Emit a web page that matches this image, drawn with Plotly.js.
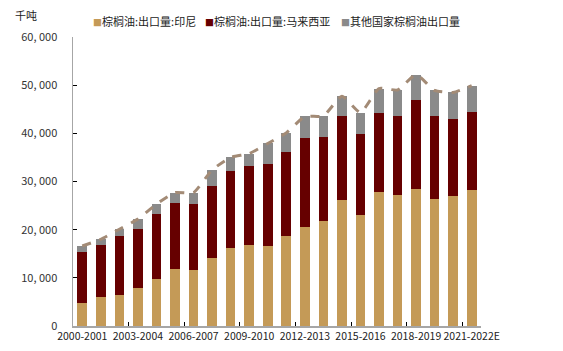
<!DOCTYPE html>
<html>
<head>
<meta charset="utf-8">
<script src="https://cdn.plot.ly/plotly-3.0.1.min.js"></script>
<style>html,body{margin:0;padding:0;background:#fff;}#chart{width:563px;height:351px;}</style>
</head>
<body>
<div id="chart"></div>
<script>
var categories = ["2000-2001","2001-2002","2002-2003","2003-2004","2004-2005","2005-2006","2006-2007","2007-2008","2008-2009","2009-2010","2010-2011","2011-2012","2012-2013","2013-2014","2014-2015","2015-2016","2016-2017","2017-2018","2018-2019","2019-2020","2020-2021","2021-2022E"];
var indonesia = [4700, 6100, 6500, 7950, 9760, 11800, 11600, 14100, 16200, 16800, 16700, 18700, 20600, 21900, 26200, 23000, 27800, 27200, 28400, 26450, 27000, 28200];
var malaysia  = [10700, 10700, 12100, 12150, 13490, 13800, 13700, 15000, 15950, 16500, 17000, 17500, 18500, 17400, 17400, 16800, 16400, 16500, 18500, 17250, 16000, 16300];
var others    = [1200, 1200, 1500, 2100, 2050, 2100, 2400, 3300, 2850, 2500, 4200, 3900, 4400, 4300, 4100, 4500, 5100, 5300, 5300, 5200, 5500, 5400];
var seriesNames = ["棕榈油:出口量:印尼", "棕榈油:出口量:马来西亚", "其他国家棕榈油出口量"];
var seriesColors = ["#C49A57", "#660000", "#8A8A8A"];
var yTickVals = [0, 10000, 20000, 30000, 40000, 50000, 60000];
var yTickText = ["0", "10, 000", "20, 000", "30, 000", "40, 000", "50, 000", "60, 000"];
var xLabelIdx = [0, 3, 6, 9, 12, 15, 18, 21];

var totals = categories.map(function(_, i){ return indonesia[i] + malaysia[i] + others[i]; });
var font = "Noto Sans CJK SC, Noto Sans, sans-serif";

var seriesData = [indonesia, malaysia, others];
var traces = seriesData.map(function(vals, k){
  return {type: "bar", x: categories, y: vals, name: seriesNames[k],
          marker: {color: seriesColors[k]}, hoverinfo: "skip"};
});
traces.push({type: "scatter", mode: "lines", x: categories, y: totals, name: "合计",
  line: {color: "#A38B76", width: 3, dash: "dash", shape: "spline", smoothing: 0.5},
  hoverinfo: "skip"});

var legendX = [91, 203, 339];
var annotations = seriesNames.map(function(n, k){
  return {xref: "paper", yref: "paper", x: (legendX[k] - 73) / 408, y: 1 + (37 - 21) / 289,
    xanchor: "left", yanchor: "middle", showarrow: false,
    text: "<span style='color:" + seriesColors[k] + ";font-size:9px'>■</span>" + n,
    font: {family: font, size: 11, color: "#222"}};
});
annotations.push({xref: "paper", yref: "paper", x: (13 - 73) / 408, y: 1 + (37 - 15) / 289,
  xanchor: "left", yanchor: "middle", showarrow: false, text: "千吨",
  font: {family: font, size: 11, color: "#222"}});

var layout = {
  width: 563, height: 351,
  margin: {l: 73, r: 82, t: 37, b: 25, pad: 0},
  paper_bgcolor: "#fff", plot_bgcolor: "#fff",
  barmode: "stack", bargap: 0.48,
  showlegend: false,
  font: {family: font, size: 11, color: "#333"},
  xaxis: {type: "category", tickmode: "array",
    tickvals: xLabelIdx.map(function(i){ return categories[i]; }),
    ticktext: xLabelIdx.map(function(i){ return categories[i]; }),
    tickson: "boundaries", ticks: "inside", ticklen: 4, tickcolor: "#000", tickwidth: 1,
    showline: true, linecolor: "#A6A6A6", linewidth: 1.5,
    showgrid: false, zeroline: false, tickangle: 0,
    tickfont: {family: font, size: 10.5, color: "#222"}, fixedrange: true},
  yaxis: {range: [0, 60000], tickmode: "array", tickvals: yTickVals, ticktext: yTickText,
    ticks: "inside", ticklen: 4, tickcolor: "#000", tickwidth: 1,
    showline: true, linecolor: "#A6A6A6", linewidth: 1.5,
    showgrid: false, zeroline: false, ticklabelstandoff: 12,
    tickfont: {family: font, size: 11, color: "#333"}, fixedrange: true},
  annotations: annotations
};

Plotly.newPlot("chart", traces, layout, {displayModeBar: false, staticPlot: true});
</script>
</body>
</html>
